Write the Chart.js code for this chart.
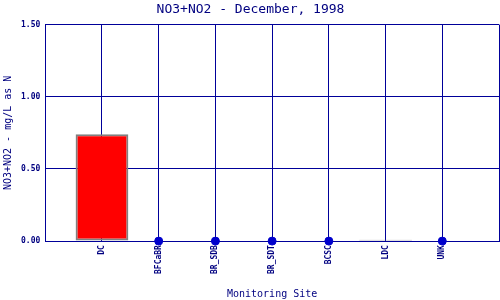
<!DOCTYPE html>
<html>
<head>
<meta charset="utf-8">
<script src="https://cdn.jsdelivr.net/npm/chart.js@4.4.1/dist/chart.umd.min.js"></script>
<style>
  html, body { margin: 0; padding: 0; background: #fff; }
  #wrap { width: 500px; height: 300px; }
</style>
</head>
<body>
<div id="wrap"><canvas id="nitrate" width="500" height="300"></canvas></div>
<script>
// Sites and measured values (null = no detection, shown as a dot on zero)
const sites = ["DC", "BFCaBR", "BR_SDB", "BR_SDT", "BCSC", "LDC", "UNK"];
const values = [0.74, null, null, null, null, 0.01, null];
const yTicks = [0, 0.5, 1.0, 1.5];

const navy = "#000080";
const gridBlue = "#000099";

// pad the category axis with an empty slot at each end so sites sit on grid lines
const labels = ["", ...sites, ""];
const barData = [null, ...values, null];
const dotData = [null, ...values.map((v) => (v === null ? 0 : null)), null];

const ctx = document.getElementById("nitrate").getContext("2d");
new Chart(ctx, {
  type: "bar",
  data: {
    labels: labels,
    datasets: [
      {
        data: barData,
        backgroundColor: "#FF0000",
        borderColor: "#808080",
        borderWidth: 2,
        borderSkipped: false,
        barPercentage: 0.93,
        categoryPercentage: 1.0,
        order: 2,
      },
      {
        type: "line",
        data: dotData,
        showLine: false,
        pointRadius: 4,
        pointBackgroundColor: "#0000CC",
        pointBorderColor: "#0000CC",
        clip: false,
        order: 1,
      },
    ],
  },
  options: {
    responsive: false,
    animation: false,
    layout: { autoPadding: false, padding: { left: 2, right: 1, top: 0, bottom: 0 } },
    plugins: {
      legend: { display: false },
      tooltip: { enabled: false },
      title: {
        display: true,
        text: "NO3+NO2 - December, 1998",
        color: navy,
        font: { family: "DejaVu Sans Mono", size: 13, weight: "normal" },
        padding: { top: 2, bottom: 7 },
      },
    },
    scales: {
      x: {
        type: "category",
        offset: false,
        grid: { color: gridBlue, lineWidth: 1, drawTicks: false, offset: false },
        border: { color: gridBlue, width: 1 },
        ticks: {
          color: navy,
          font: { family: "DejaVu Sans Mono", size: 8, weight: "bold" },
          minRotation: 90,
          maxRotation: 90,
          padding: 4,
          autoSkip: false,
        },
        title: {
          display: true,
          text: "Monitoring Site",
          color: navy,
          font: { family: "DejaVu Sans Mono", size: 10 },
          padding: { top: 10, bottom: 0 },
        },
        afterFit: (axis) => {
          axis.paddingRight = 0;
        },
      },
      y: {
        min: 0,
        max: 1.5,
        afterBuildTicks: (axis) => {
          axis.ticks = yTicks.map((v) => ({ value: v }));
        },
        grid: { color: gridBlue, lineWidth: 1, drawTicks: false },
        border: { color: gridBlue, width: 1 },
        ticks: {
          color: navy,
          font: { family: "DejaVu Sans Mono", size: 8, weight: "bold" },
          padding: 5,
          callback: (v) => Number(v).toFixed(2),
        },
        title: {
          display: true,
          text: "NO3+NO2 - mg/L as N",
          color: navy,
          font: { family: "DejaVu Sans Mono", size: 10 },
          padding: { top: 0, bottom: 2 },
        },
      },
    },
  },
});
</script>
</body>
</html>
